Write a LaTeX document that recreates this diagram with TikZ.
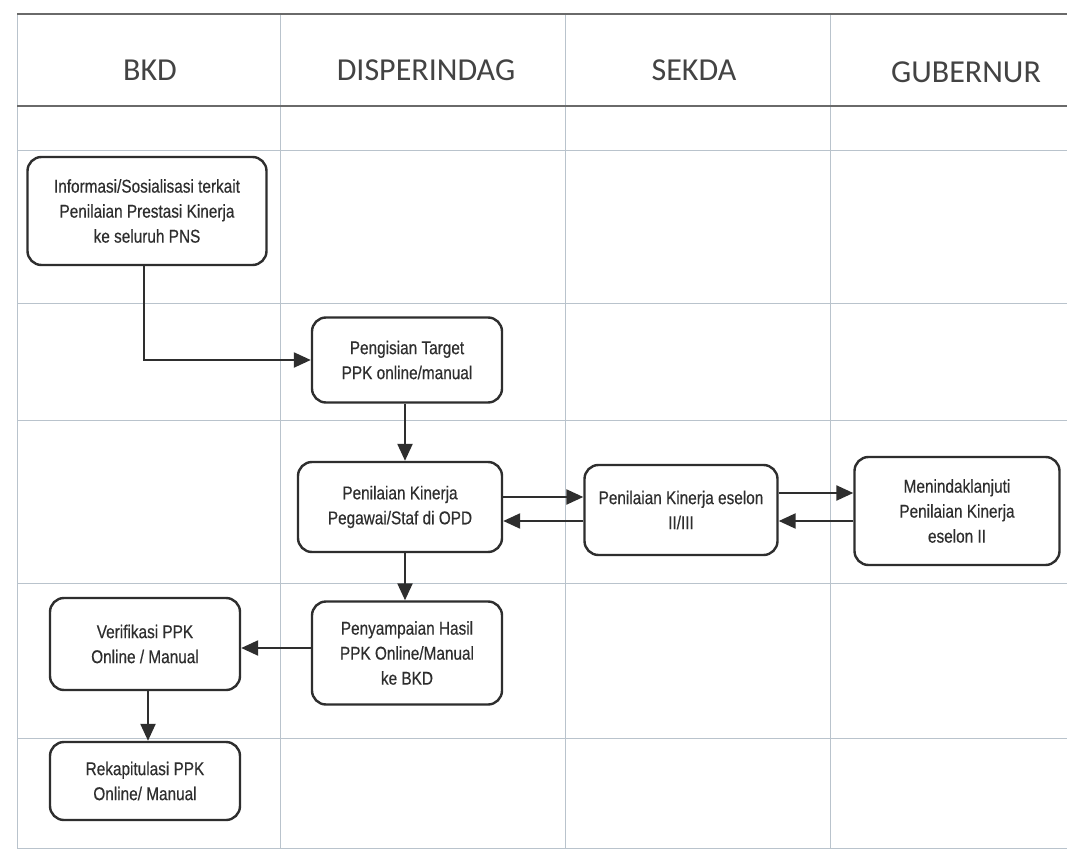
\documentclass[tikz,border=0pt]{standalone}
\usepackage{fontspec}
\setmainfont{Liberation Sans}
\newfontfamily\headfont{Carlito}
\newfontfamily\boxfont[FakeStretch=0.83,FakeBold=0.4]{Liberation Sans}
\usetikzlibrary{arrows.meta,calc}
\definecolor{ink}{HTML}{2E2E2E}
\definecolor{gridc}{HTML}{B9C3CC}
\definecolor{headc}{HTML}{6A6A6A}
\begin{document}
\begin{tikzpicture}[x=1pt,y=-1pt,
  lane/.style={draw=gridc,line width=0.8pt},
  headline/.style={draw=headc,line width=1.3pt},
  lanetitle/.style={font=\headfont\fontsize{32}{34}\selectfont,text=ink!90},
  task/.style={draw=ink,line width=2.4pt,rounded corners=14pt,fill=white,
    align=center,font=\boxfont\fontsize{18.5}{25}\selectfont,text=ink,inner sep=0pt},
  flow/.style={draw=ink,line width=2.3pt,-{Triangle[length=17pt,width=15pt]}}]
\useasboundingbox (0,0) rectangle (1067,858);
\fill[white] (0,0) rectangle (1067,858);

% swimlane grid
\foreach \y in {150,303,420,583,738} \draw[lane] (17,\y) -- (1067,\y);
\foreach \x in {280,565,830} \draw[lane] (\x,14) -- (\x,848);
\draw[lane] (17,14) -- (17,848) -- (1067,848);
\draw[headline] (17,14) -- (1067,14);
\draw[headline] (17,106) -- (1067,106);

% lane titles
\node[lanetitle] (tbkd) at (150,70) {BKD};
\node[lanetitle] (tdis) at (426,70) {DISPERINDAG};
\node[lanetitle] (tsek) at (694,70) {SEKDA};
\node[lanetitle] (tgub) at (966,72) {GUBERNUR};

% process steps
\node[task,minimum width=239pt,minimum height=108pt] (info) at (147,211)
  {Informasi/Sosialisasi terkait\\Penilaian Prestasi Kinerja\\ke seluruh PNS};
\node[task,minimum width=190pt,minimum height=85pt] (peng) at (407,360)
  {Pengisian Target\\PPK online/manual};
\node[task,minimum width=204pt,minimum height=90pt] (nilai) at (400,507)
  {Penilaian Kinerja\\Pegawai/Staf di OPD};
\node[task,minimum width=193pt,minimum height=90pt] (esel) at (681,510)
  {Penilaian Kinerja eselon\\II/III};
\node[task,minimum width=205pt,minimum height=108pt] (tindak) at (957,511)
  {Menindaklanjuti\\Penilaian Kinerja\\eselon II};
\node[task,minimum width=190pt,minimum height=103pt] (sampai) at (407,653)
  {Penyampaian Hasil\\PPK Online/Manual\\ke BKD};
\node[task,minimum width=190pt,minimum height=92pt] (verif) at (145,644)
  {Verifikasi PPK\\Online / Manual};
\node[task,minimum width=190pt,minimum height=78pt] (rekap) at (145,781)
  {Rekapitulasi PPK\\Online/ Manual};

% connectors
\draw[flow] (info.south -| 144,0) |- (peng.west);
\draw[flow] (peng.south -| 405,0) -- (nilai.north -| 405,0);
\draw[flow] (nilai.east |- 0,497) -- (esel.west |- 0,497);
\draw[flow] (esel.west |- 0,521) -- (nilai.east |- 0,521);
\draw[flow] (esel.east |- 0,493) -- (tindak.west |- 0,493);
\draw[flow] (tindak.west |- 0,521) -- (esel.east |- 0,521);
\draw[flow] (nilai.south -| 405,0) -- (sampai.north -| 405,0);
\draw[flow] (sampai.west |- 0,648) -- (verif.east |- 0,648);
\draw[flow] (verif.south -| 148,0) -- (rekap.north -| 148,0);
\end{tikzpicture}
\end{document}
